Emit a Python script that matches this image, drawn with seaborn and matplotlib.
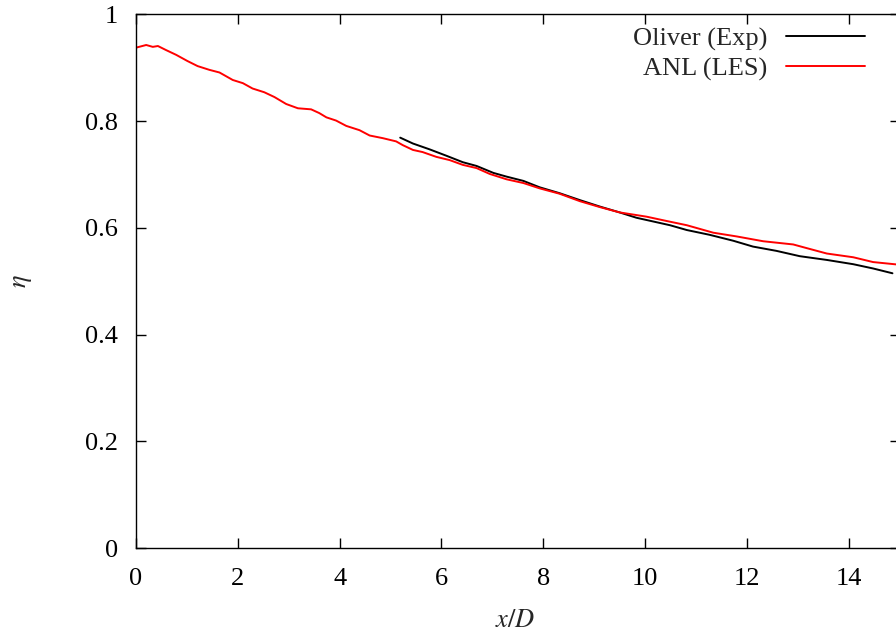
import numpy as np
import pandas as pd
import matplotlib
matplotlib.use("Agg")
import matplotlib.pyplot as plt
import seaborn as sns

# Film cooling effectiveness along the centreline
les_x = [0.00, 0.20, 0.33, 0.43, 0.59, 0.79, 1.01, 1.21, 1.44, 1.64, 1.90, 2.10,
         2.29, 2.52, 2.72, 2.95, 3.18, 3.44, 3.60, 3.74, 3.93, 4.13, 4.39, 4.59,
         4.85, 5.11, 5.24, 5.44, 5.63, 5.90, 6.16, 6.42, 6.69, 6.95, 7.28, 7.61,
         7.93, 8.32, 8.72, 9.11, 9.50, 10.03, 10.42, 10.82, 11.34, 11.80, 12.32,
         12.91, 13.18, 13.57, 14.09, 14.48, 15.00]
les_eta = [0.9375, 0.9425, 0.939, 0.9406, 0.933, 0.924, 0.9125, 0.903, 0.896,
           0.891, 0.877, 0.871, 0.861, 0.854, 0.845, 0.832, 0.824, 0.822, 0.815,
           0.807, 0.801, 0.791, 0.783, 0.773, 0.768, 0.762, 0.755, 0.746, 0.742,
           0.733, 0.727, 0.718, 0.712, 0.701, 0.691, 0.684, 0.674, 0.664, 0.650,
           0.639, 0.629, 0.621, 0.613, 0.605, 0.591, 0.584, 0.575, 0.569, 0.562,
           0.552, 0.545, 0.536, 0.531]

exp_x = [5.19, 5.44, 5.77, 6.10, 6.42, 6.69, 7.02, 7.28, 7.61, 7.93, 8.32, 8.72,
         9.11, 9.50, 9.83, 10.16, 10.49, 10.82, 11.27, 11.73, 12.12, 12.58,
         13.04, 13.57, 14.09, 14.48, 14.86]
exp_eta = [0.769, 0.758, 0.747, 0.735, 0.723, 0.716, 0.703, 0.696, 0.688, 0.676,
           0.665, 0.652, 0.640, 0.629, 0.619, 0.612, 0.605, 0.596, 0.587, 0.576,
           0.565, 0.557, 0.547, 0.540, 0.532, 0.524, 0.515]

series_names = ["Oliver (Exp)", "ANL (LES)"]
series_colors = ["#000000", "#ff0000"]

x_ticks = [0, 2, 4, 6, 8, 10, 12, 14]
y_ticks = [0, 0.2, 0.4, 0.6, 0.8, 1]
y_tick_labels = ["0", "0.2", "0.4", "0.6", "0.8", "1"]

df = pd.concat([
    pd.DataFrame({"x": exp_x, "eta": exp_eta, "case": series_names[0]}),
    pd.DataFrame({"x": les_x, "eta": les_eta, "case": series_names[1]}),
], ignore_index=True)

sns.set_theme(style="ticks")
plt.rcParams["font.family"] = ["Liberation Serif", "DejaVu Serif"]
plt.rcParams["mathtext.fontset"] = "stix"

FS = 19
LW = 1.4

fig = plt.figure(figsize=(8.96, 6.38), dpi=100)
ax = fig.add_axes([0.1518, 0.1406, 1.004 - 0.1518, 0.9776 - 0.1406])

sns.lineplot(data=df, x="x", y="eta", hue="case", hue_order=series_names,
             palette=dict(zip(series_names, series_colors)), linewidth=LW,
             estimator=None, sort=True, ax=ax, legend=False)

ax.set_xlim(0, 15)
ax.set_ylim(0, 1)
ax.set_xticks(x_ticks)
ax.set_xticklabels([str(t) for t in x_ticks])
ax.set_yticks(y_ticks)
ax.set_yticklabels(y_tick_labels)
ax.tick_params(direction="in", length=7, width=1.0, labelsize=FS,
               top=True, right=True, colors="black")
ax.tick_params(axis="x", pad=14)
ax.tick_params(axis="y", pad=13)
for s in ax.spines.values():
    s.set_linewidth(1.0)
    s.set_color("black")

ax.set_xlabel(r"$x/D$", fontsize=FS)
ax.xaxis.set_label_coords(0.497, -0.115)
ax.set_ylabel(r"$\eta$", fontsize=FS, rotation=90)
ax.yaxis.set_label_coords(-0.133, 0.5)

handles = [plt.Line2D([], [], color=c, linewidth=LW) for c in series_colors]
leg = ax.legend(handles, series_names, loc="upper right", markerfirst=False,
                frameon=False, fontsize=FS, handlelength=3.0, handletextpad=0.7,
                labelspacing=0.22, borderaxespad=0.0, borderpad=0.2,
                bbox_to_anchor=(0.962, 0.986))
for t in leg.get_texts():
    t.set_ha("right")

fig.savefig("out.png", dpi=100)
